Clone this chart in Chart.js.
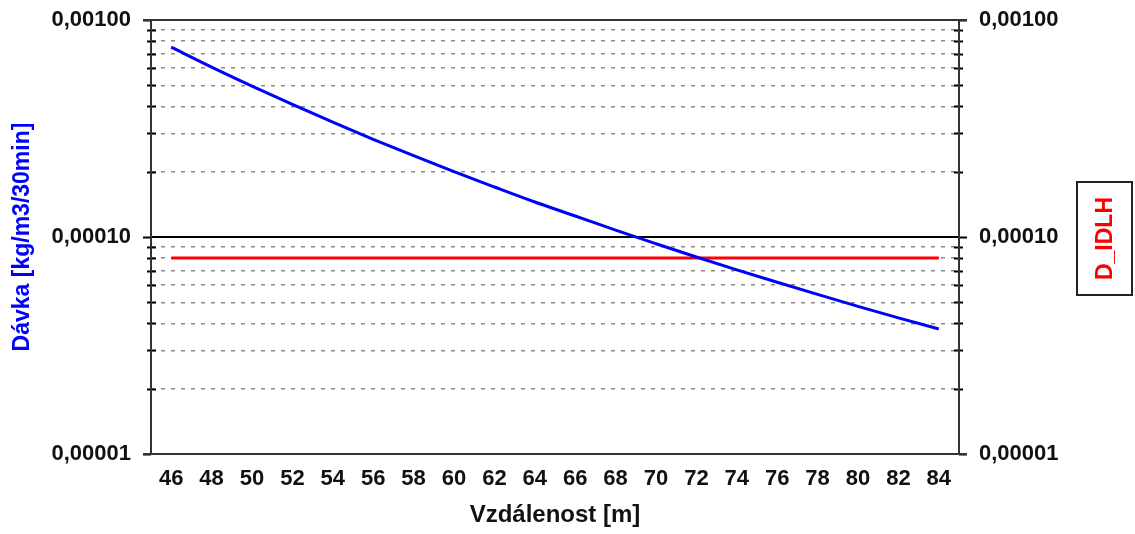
<!DOCTYPE html>
<html>
<head>
<meta charset="utf-8">
<script src="https://cdn.jsdelivr.net/npm/chart.js@4.4.1/dist/chart.umd.min.js"></script>
<style>
  html, body { margin: 0; padding: 0; background: #fff; }
  #wrap { width: 1135px; height: 534px; }
</style>
</head>
<body>
<div id="wrap"><canvas id="c" width="1135" height="534"></canvas></div>
<script>
// Distance from the source [m] and the resulting dose [kg/m3/30min]
const distances = [46, 48, 50, 52, 54, 56, 58, 60, 62, 64, 66, 68, 70, 72, 74, 76, 78, 80, 82, 84];
const doses = [7.5e-4, 6.07e-4, 4.96e-4, 4.08e-4, 3.38e-4, 2.82e-4, 2.37e-4, 2.0e-4, 1.70e-4, 1.45e-4,
               1.25e-4, 1.075e-4, 9.31e-5, 8.09e-5, 7.06e-5, 6.19e-5, 5.44e-5, 4.79e-5, 4.24e-5, 3.77e-5];
// IDLH threshold dose
const idlhDose = 8e-5;
const idlhLabel = 'D_IDLH';

// Axis ticks
const xTicks = [46, 48, 50, 52, 54, 56, 58, 60, 62, 64, 66, 68, 70, 72, 74, 76, 78, 80, 82, 84];
const yDecades = [1e-5, 1e-4, 1e-3];
const yDecadeLabels = ['0,00001', '0,00010', '0,00100'];
const yMinorSteps = [2, 3, 4, 5, 6, 7, 8, 9];

const xTitle = 'Vzdálenost [m]';
const yTitle = 'Dávka [kg/m3/30min]';

const FONT = "'Liberation Sans', Arial, sans-serif";

function isDecade(v) {
  return yDecades.some(d => Math.abs(v / d - 1) < 1e-6);
}
function yTickValues() {
  const vals = [];
  for (let i = 0; i < yDecades.length; i++) {
    vals.push(yDecades[i]);
    if (i < yDecades.length - 1) yMinorSteps.forEach(m => vals.push(yDecades[i] * m));
  }
  return vals.map(v => ({ value: v }));
}
function yLabel(v) {
  const i = yDecades.findIndex(d => Math.abs(v / d - 1) < 1e-6);
  return i >= 0 ? yDecadeLabels[i] : '';
}

// Frame, tick marks on both value axes, and the side legend box
const frameDecor = {
  id: 'frameDecor',
  afterDatasetsDraw(chart) {
    const { ctx, chartArea: a, scales } = chart;
    const y = scales.y;
    ctx.save();
    ctx.strokeStyle = '#000';
    ctx.lineWidth = 2;
    ctx.setLineDash([]);
    y.ticks.forEach(t => {
      const py = Math.round(y.getPixelForValue(t.value)) + 0.5;
      ctx.beginPath();
      if (isDecade(t.value)) {
        ctx.moveTo(a.left - 8, py); ctx.lineTo(a.left, py);
        ctx.moveTo(a.right, py); ctx.lineTo(a.right + 8, py);
      } else {
        ctx.moveTo(a.left - 4, py); ctx.lineTo(a.left + 5, py);
        ctx.moveTo(a.right - 5, py); ctx.lineTo(a.right + 4, py);
      }
      ctx.stroke();
    });
    // plot frame
    ctx.strokeStyle = '#333';
    ctx.lineWidth = 2;
    ctx.beginPath();
    ctx.moveTo(a.left - 8, a.top); ctx.lineTo(a.right + 8, a.top);
    ctx.moveTo(a.left - 8, a.bottom); ctx.lineTo(a.right + 8, a.bottom);
    ctx.moveTo(a.left, a.top); ctx.lineTo(a.left, a.bottom);
    ctx.moveTo(a.right, a.top); ctx.lineTo(a.right, a.bottom);
    ctx.stroke();

    // legend box with vertical label
    const bx = 1077, by = 182, bw = 55, bh = 113;
    ctx.strokeStyle = '#222';
    ctx.lineWidth = 2;
    ctx.strokeRect(bx, by, bw, bh);
    ctx.translate(bx + bw / 2, by + bh / 2);
    ctx.rotate(-Math.PI / 2);
    ctx.fillStyle = '#ff0000';
    ctx.font = 'bold 23px ' + FONT;
    ctx.textAlign = 'center';
    ctx.textBaseline = 'middle';
    ctx.fillText(idlhLabel, 0, 1);
    ctx.restore();
  }
};

const yScaleBase = {
  type: 'logarithmic',
  min: 1e-5,
  max: 1e-3,
  afterBuildTicks(scale) { scale.ticks = yTickValues(); },
  ticks: {
    autoSkip: false,
    color: '#111',
    font: { family: FONT, size: 22, weight: 'bold' },
    padding: 20,
    callback: (v) => yLabel(v)
  },
  border: { display: false }
};

function fixVertical(width) {
  return function (scale) {
    scale.width = width;
    scale.paddingTop = 0;
    scale.paddingBottom = 0;
  };
}

new Chart(document.getElementById('c'), {
  type: 'line',
  data: {
    datasets: [
      {
        label: 'Dávka',
        data: distances.map((d, i) => ({ x: d, y: doses[i] })),
        borderColor: '#0000ff',
        borderWidth: 3,
        pointRadius: 0,
        cubicInterpolationMode: 'monotone',
        fill: false
      },
      {
        label: idlhLabel,
        data: distances.map(d => ({ x: d, y: idlhDose })),
        borderColor: '#ff0000',
        borderWidth: 3,
        pointRadius: 0,
        fill: false
      }
    ]
  },
  options: {
    responsive: false,
    animation: false,
    devicePixelRatio: 1,
    layout: { padding: { top: 20, left: 0, right: 0, bottom: 0 } },
    plugins: { legend: { display: false }, tooltip: { enabled: false } },
    scales: {
      x: {
        type: 'linear',
        min: 45,
        max: 85,
        afterBuildTicks(scale) { scale.ticks = xTicks.map(v => ({ value: v })); },
        afterFit(scale) {
          scale.height = 80;
          scale.paddingLeft = 0;
          scale.paddingRight = 0;
        },
        grid: { display: false, drawTicks: false },
        border: { display: false },
        ticks: {
          autoSkip: false,
          maxRotation: 0,
          color: '#111',
          font: { family: FONT, size: 22, weight: 'bold' },
          padding: 12
        },
        title: {
          display: true,
          text: xTitle,
          color: '#111',
          font: { family: FONT, size: 24, weight: 'bold' },
          padding: { top: 0, bottom: 4 }
        }
      },
      y: Object.assign({}, yScaleBase, {
        position: 'left',
        afterFit: fixVertical(151),
        grid: {
          drawTicks: false,
          lineWidth: (c) => (c.tick && Math.abs(c.tick.value / 1e-4 - 1) < 1e-6) ? 2 : 1.5,
          color: (c) => {
            if (!c.tick) return 'transparent';
            const v = c.tick.value;
            if (Math.abs(v / 1e-4 - 1) < 1e-6) return '#000';
            return isDecade(v) ? 'transparent' : '#888';
          }
        },
        border: {
          display: false,
          dash: (c) => (c.tick && !isDecade(c.tick.value)) ? [4, 6] : [],
          dashOffset: -10
        },
        title: {
          display: true,
          text: yTitle,
          color: '#0000ff',
          font: { family: FONT, size: 23, weight: 'bold' },
          padding: { top: 9, bottom: 0 }
        }
      }),
      y2: Object.assign({}, yScaleBase, {
        position: 'right',
        afterFit: fixVertical(176),
        grid: { drawOnChartArea: false, drawTicks: false }
      })
    }
  },
  plugins: [frameDecor]
});
</script>
</body>
</html>
